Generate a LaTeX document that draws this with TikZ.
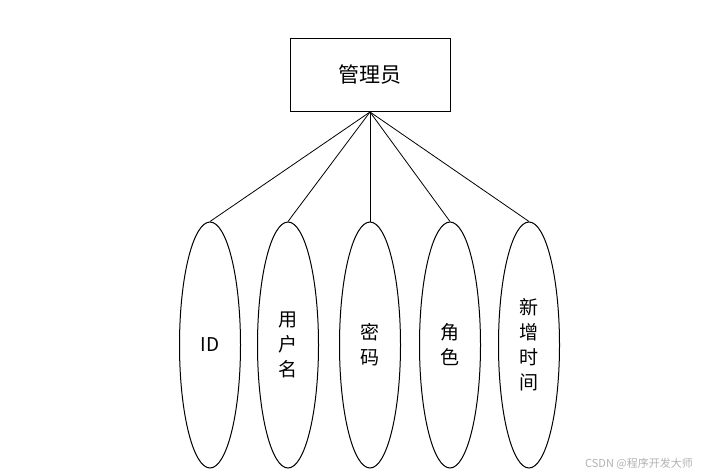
\documentclass[tikz,border=0pt]{standalone}
\usepackage{fontspec}
\setmainfont{Noto Sans CJK SC}
\usetikzlibrary{shapes.geometric}
\begin{document}
\begin{tikzpicture}[x=1pt,y=-1pt,
	entite/.style={draw,line width=1pt,minimum width=160pt,minimum height=73pt,font=\fontsize{21}{25}\selectfont},
	attribut/.style={draw,ellipse,line width=1pt,minimum width=61pt,minimum height=246pt,inner sep=0pt,align=center,font=\fontsize{19}{25}\selectfont}]
	% Cadre de l'image
	\useasboundingbox (0,0) rectangle (728,476);
	\def\yatt{345}
%
% Entite
	\node[entite] (admin) at (370,75) {管理员};
% Attributs et liaisons
	\foreach \nom/\x/\txt in {id/210/ID,user/288/用\\户\\名,mdp/370/密\\码,role/450/角\\色,date/529/新\\增\\时\\间}{
		\node[attribut] (\nom) at (\x,\yatt) {\txt};
		\draw[line width=0.8pt] (admin.south) -- (\nom.north);
	};
% Filigrane
	\node[text=gray!60,font=\fontsize{11}{13}\selectfont] (marque) at (639,464) {CSDN @程序开发大师};

\end{tikzpicture}
\end{document}
